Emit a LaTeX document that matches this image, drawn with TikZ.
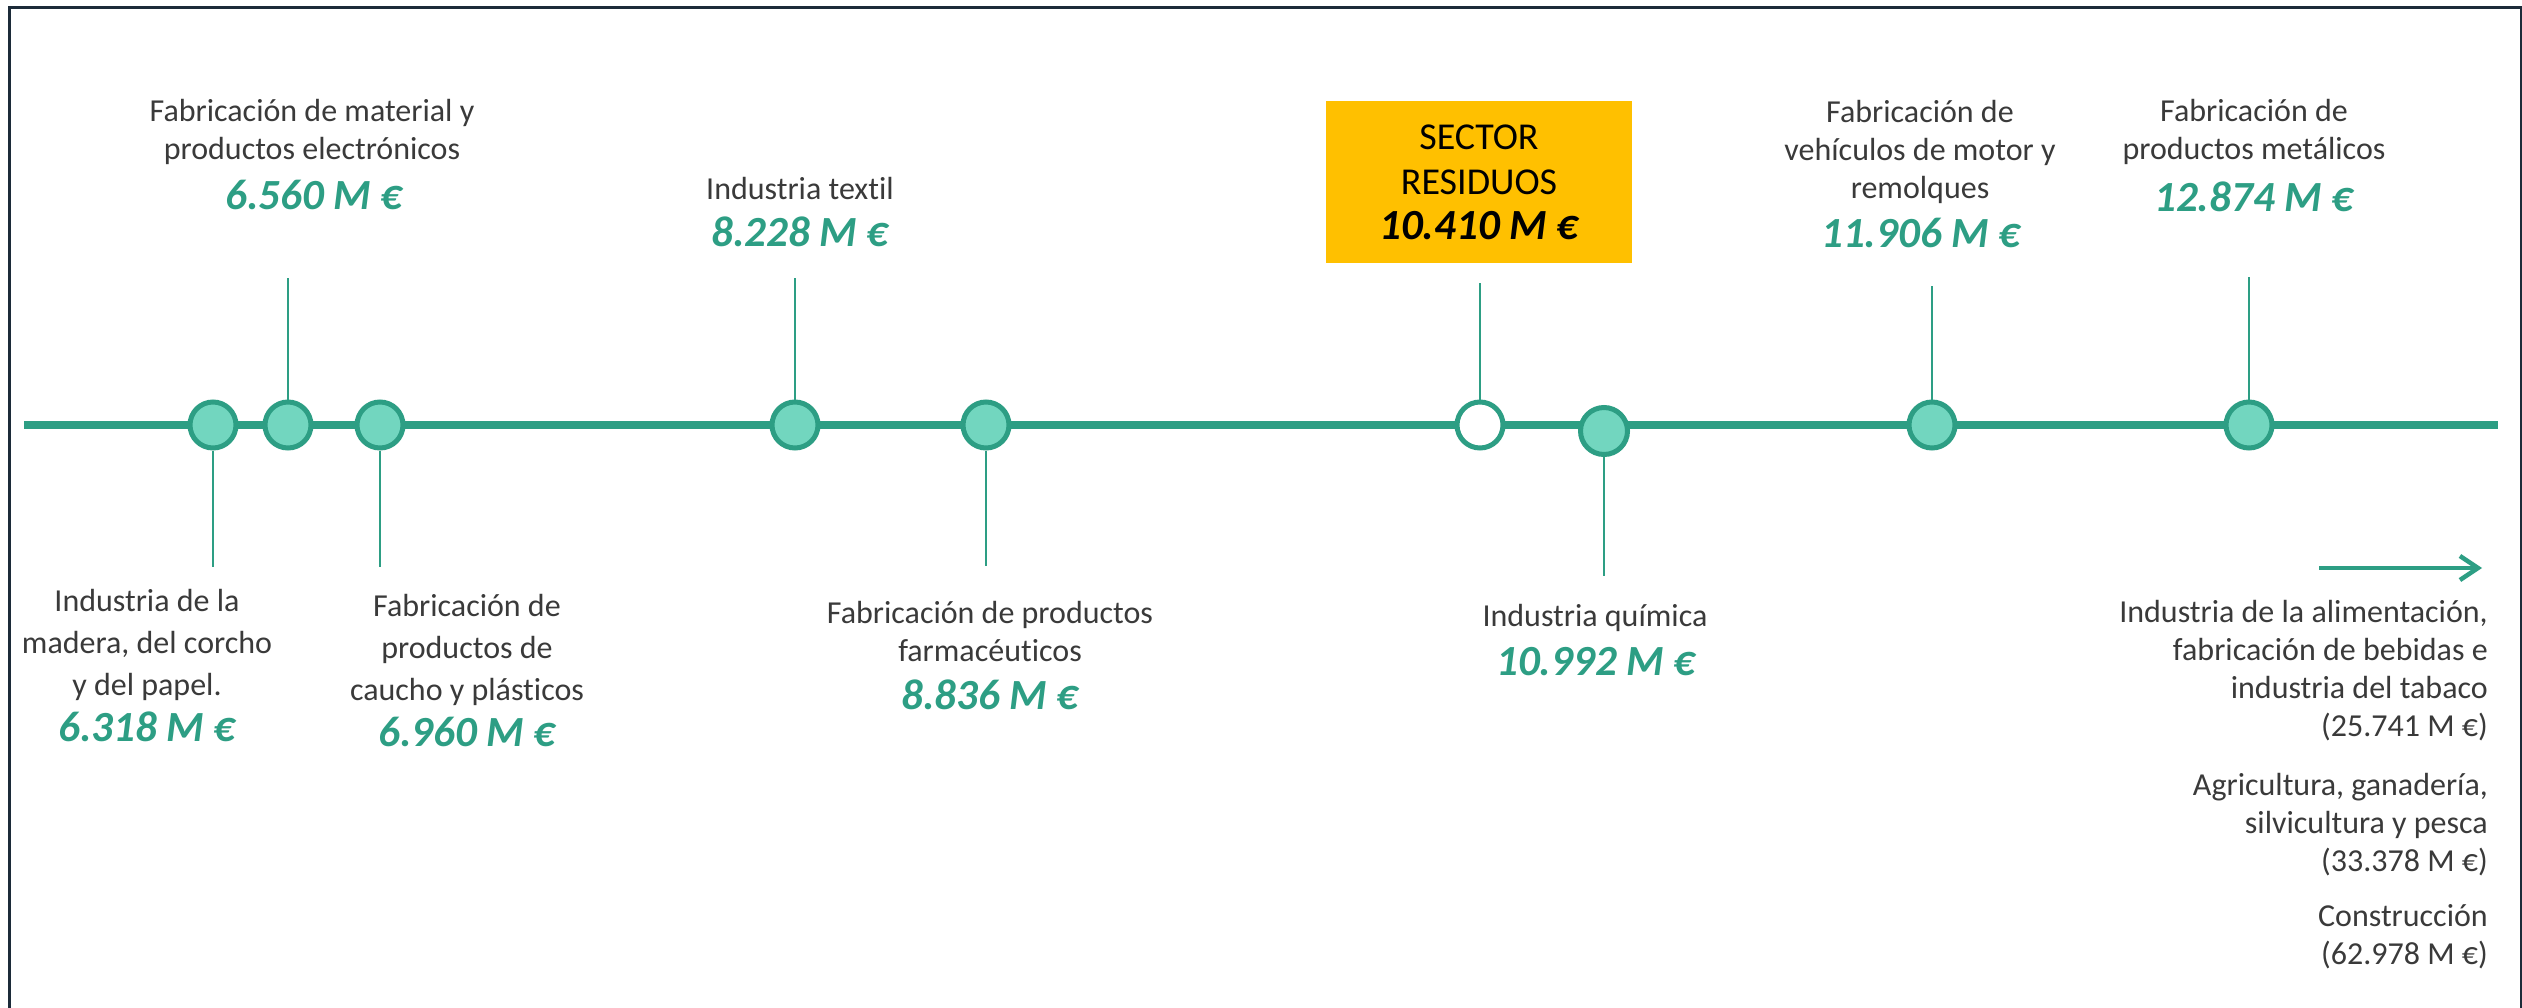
\documentclass[tikz,border=0pt]{standalone}
\usepackage{fontspec}
\setmainfont{Carlito}[Ligatures={NoCommon, NoRequired}]
\usetikzlibrary{arrows.meta, positioning}

\definecolor{verde}{HTML}{2D9E84}
\definecolor{menta}{HTML}{72D6BF}
\definecolor{oro}{HTML}{FFC000}
\definecolor{texto}{HTML}{3A3A3A}
\definecolor{marco}{HTML}{1C2B39}

\begin{document}
\begin{tikzpicture}[x=1pt, y=-1pt,
  eje/.style={draw=verde, line width=7.5pt},
  hito/.style={circle, draw=verde, line width=5pt, fill=menta, minimum size=46pt, inner sep=0pt},
  tallo/.style={draw=verde, line width=2pt},
  etiq/.style={align=center, text=texto, inner sep=0pt, font=\fontsize{32}{38}\selectfont},
  valor/.style={text=verde, inner sep=0pt, font=\fontsize{43}{46}\selectfont\bfseries\itshape},
  resto/.style={align=right, text=texto, inner sep=0pt, font=\fontsize{32}{38}\selectfont},
  caja/.style={fill=oro, minimum width=306pt, minimum height=162pt, align=center, inner sep=0pt, font=\fontsize{38}{45}\selectfont}
]
\useasboundingbox (0,0) rectangle (2522,1007);
\fill[white] (0,0) rectangle (2522,1007);
\draw[marco, line width=3pt] (9,7) rectangle (2521,1030);

\coordinate (ini) at (24,425);
\coordinate (fin) at (2498,425);
\draw[eje] (ini) -- (fin);

\node[hito] (c1) at (213,425) {};
\node[hito] (c2) at (288,425) {};
\node[hito] (c3) at (380,425) {};
\node[hito] (c4) at (795,425) {};
\node[hito] (c5) at (986,425) {};
\node[hito, fill=white] (c6) at (1480,425) {};
\node[hito, minimum size=47pt] (c7) at (1604,431) {};
\node[hito] (c8) at (1932,425) {};
\node[hito] (c9) at (2249,425) {};

\coordinate (t1) at (213,567);
\coordinate (t2) at (288,278);
\coordinate (t3) at (380,567);
\coordinate (t4) at (795,278);
\coordinate (t5) at (986,566);
\coordinate (t6) at (1480,283);
\coordinate (t7) at (1604,576);
\coordinate (t8) at (1932,286);
\coordinate (t9) at (2249,277);
\foreach \i in {1,...,9} {
  \draw[tallo] (c\i) -- (t\i);
}

\node[etiq, font=\fontsize{32}{42}\selectfont] (n1) at (147,645) {Industria de la\\madera, del corcho\\y del papel.};
\node[valor] (v1) at (147,727) {6.318 M €};
\node[etiq] (n2) at (312,132) {Fabricación de material y\\productos electrónicos};
\node[valor] (v2) at (314,195) {6.560 M €};
\node[etiq, font=\fontsize{32}{42}\selectfont] (n3) at (467,650) {Fabricación de\\productos de\\caucho y plásticos};
\node[valor] (v3) at (467,732) {6.960 M €};
\node[etiq] (n4) at (800,189) {Industria textil};
\node[valor] (v4) at (800,232) {8.228 M €};
\node[etiq] (n5) at (990,631) {Fabricación de productos\\farmacéuticos};
\node[valor] (v5) at (990,695) {8.836 M €};

\node[caja] (sector) at (1479,182) {SECTOR\\RESIDUOS\\[0pt]{\fontsize{43}{46}\selectfont\bfseries\itshape 10.410 M €}};

\node[etiq] (n7) at (1595,618) {Industria química};
\node[valor] (v7) at (1596,662) {10.992 M €};
\node[etiq] (n8) at (1920,152) {Fabricación de\\vehículos de motor y\\remolques};
\node[valor] (v8) at (1921,233) {11.906 M €};
\node[etiq] (n9) at (2254,132) {Fabricación de\\productos metálicos};
\node[valor] (v9) at (2254,197) {12.874 M €};

\coordinate (fa) at (2319,568);
\coordinate (fb) at (2482,568);
\draw[verde, line width=4.5pt, -{Straight Barb[length=18pt, width=24pt]}] (fa) -- (fb);

\node[resto, anchor=north east] (r1) at (2488,600) {Industria de la alimentación,\\fabricación de bebidas e\\industria del tabaco\\(25.741 M €)};
\node[resto, below=32pt of r1.south east, anchor=north east] (r2) {Agricultura, ganadería,\\silvicultura y pesca\\(33.378 M €)};
\node[resto, below=28pt of r2.south east, anchor=north east] (r3) {Construcción\\(62.978 M €)};
\end{tikzpicture}
\end{document}
